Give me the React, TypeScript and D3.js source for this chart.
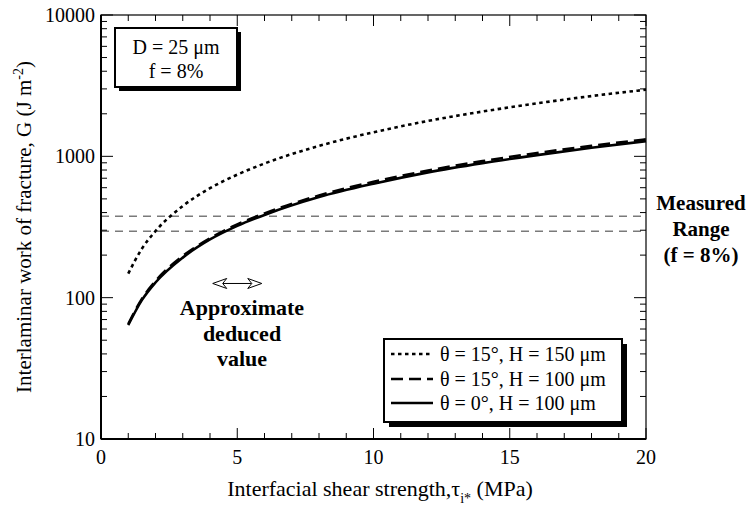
import React from "react";
import * as d3 from "d3";

const tau = [1, 1.5, 2, 3, 4, 5, 6, 8, 10, 12, 14, 16, 18, 20];
const gDotted = [148, 222, 296, 445, 595, 742, 890, 1185, 1480, 1780, 2075, 2370, 2670, 2960];
const gDashed = [65, 98, 131, 197, 263, 330, 395, 528, 660, 792, 925, 1055, 1185, 1320];
const gSolid = [64, 96, 128, 192, 258, 322, 385, 515, 640, 770, 895, 1020, 1150, 1280];
const measuredRange = [295, 376];
const deducedRange = [4.1, 5.9];
const deducedLevel = 126;
const xTicks = [0, 5, 10, 15, 20];
const yTicks = [10, 100, 1000, 10000];
const seriesLabels = ["θ = 15°, H = 150 μm", "θ = 15°, H = 100 μm", "θ = 0°, H = 100 μm"];

const FONT = "Liberation Serif, Times New Roman, serif";

export default function App() {
  const L = 101, R = 646, T = 15, B = 439;
  const x = d3.scaleLinear().domain([0, 20]).range([L, R]);
  const y = d3.scaleLog().domain([10, 10000]).range([B, T]);
  const line = d3
    .line<number>()
    .x((_, i) => x(tau[i]))
    .y((d) => y(d))
    .curve(d3.curveMonotoneX);

  const xMinor = d3.range(1, 20).filter((v) => v % 5 !== 0);
  const yMinor: number[] = [];
  [10, 100, 1000].forEach((d) => {
    for (let k = 2; k <= 9; k++) yMinor.push(k * d);
  });

  const series = [
    { data: gDotted, dash: "3.5 3.5" },
    { data: gDashed, dash: "12 6" },
    { data: gSolid, dash: "none" },
  ];

  const legX = 384, legY = 339, legW = 238, legH = 83;
  const rowY = [354, 379, 403];

  const ax0 = x(deducedRange[0]);
  const ax1 = x(deducedRange[1]);
  const ay = y(deducedLevel);
  const head = 14, hw = 5;

  return (
    <svg
      width={756}
      height={506}
      style={{ position: "absolute", left: 0, top: 0, background: "#fff" }}
      fontFamily={FONT}
    >
      {measuredRange.map((v) => (
        <line key={v} x1={L} x2={R} y1={y(v)} y2={y(v)} stroke="#7a7a7a" strokeWidth={1.5} strokeDasharray="8 6" />
      ))}

      {series.map((s, i) => (
        <path key={i} d={line(s.data) || ""} fill="none" stroke="#000" strokeWidth={2.6} strokeDasharray={s.dash} />
      ))}

      <rect x={L} y={T} width={R - L} height={B - T} fill="none" stroke="#000" strokeWidth={1.2} />
      <line x1={L} x2={L} y1={T} y2={B} stroke="#000" strokeWidth={2} />
      <line x1={L} x2={R} y1={B} y2={B} stroke="#000" strokeWidth={2} />

      {xTicks.map((v) => (
        <g key={"xt" + v}>
          <line x1={x(v)} x2={x(v)} y1={B} y2={B - 11} stroke="#000" strokeWidth={1} />
          <line x1={x(v)} x2={x(v)} y1={T} y2={T + 11} stroke="#000" strokeWidth={1} />
          <text x={x(v)} y={464} fontSize={20} textAnchor="middle">{v}</text>
        </g>
      ))}
      {xMinor.map((v) => (
        <g key={"xm" + v}>
          <line x1={x(v)} x2={x(v)} y1={B} y2={B - 6} stroke="#000" strokeWidth={1} />
          <line x1={x(v)} x2={x(v)} y1={T} y2={T + 6} stroke="#000" strokeWidth={1} />
        </g>
      ))}

      {yTicks.map((v) => (
        <g key={"yt" + v}>
          <line x1={L} x2={L + 12} y1={y(v)} y2={y(v)} stroke="#000" strokeWidth={1} />
          <line x1={R} x2={R - 12} y1={y(v)} y2={y(v)} stroke="#000" strokeWidth={1} />
          <text x={95} y={y(v) + 7} fontSize={20} textAnchor="end">{v}</text>
        </g>
      ))}
      {yMinor.map((v) => (
        <g key={"ym" + v}>
          <line x1={L} x2={L + 6} y1={y(v)} y2={y(v)} stroke="#000" strokeWidth={1} />
          <line x1={R} x2={R - 6} y1={y(v)} y2={y(v)} stroke="#000" strokeWidth={1} />
        </g>
      ))}

      <text x={380} y={496} fontSize={22} textAnchor="middle">
        Interfacial shear strength,τ
        <tspan fontSize={14} dy={7}>i*</tspan>
        <tspan dy={-7}> (MPa)</tspan>
      </text>
      <text transform={`translate(31,${(T + B) / 2}) rotate(-90)`} fontSize={21} textAnchor="middle">
        Interlaminar work of fracture, G (J m
        <tspan fontSize={14} dy={-8}>-2</tspan>
        <tspan dy={8}>)</tspan>
      </text>

      <rect x={119} y={32} width={122} height={59} fill="#000" />
      <rect x={115} y={28} width={122} height={59} fill="#fff" stroke="#000" strokeWidth={2} />
      <text x={176} y={54} fontSize={20} textAnchor="middle">D = 25 μm</text>
      <text x={176} y={78} fontSize={20} textAnchor="middle">f = 8%</text>

      <g fontSize={21} fontWeight="bold" textAnchor="middle">
        <text x={701} y={210}>Measured</text>
        <text x={701} y={236}>Range</text>
        <text x={701} y={262}>(f = 8%)</text>
      </g>

      <g fontSize={22} fontWeight="bold" textAnchor="middle">
        <text x={242} y={315}>Approximate</text>
        <text x={242} y={341}>deduced</text>
        <text x={242} y={366}>value</text>
      </g>
      <line x1={ax0 + head - 4} x2={ax1 - head + 4} y1={ay} y2={ay} stroke="#000" strokeWidth={1} />
      <path
        d={`M${ax0},${ay} L${ax0 + head},${ay - hw} L${ax0 + head - 4},${ay} L${ax0 + head},${ay + hw} Z`}
        fill="#fff"
        stroke="#000"
        strokeWidth={1}
      />
      <path
        d={`M${ax1},${ay} L${ax1 - head},${ay - hw} L${ax1 - head + 4},${ay} L${ax1 - head},${ay + hw} Z`}
        fill="#fff"
        stroke="#000"
        strokeWidth={1}
      />

      <rect x={legX + 5} y={legY + 5} width={legW} height={legH} fill="#000" />
      <rect x={legX} y={legY} width={legW} height={legH} fill="#fff" stroke="#000" strokeWidth={2} />
      {series.map((s, i) => (
        <g key={"lg" + i}>
          <line x1={391} x2={433} y1={rowY[i]} y2={rowY[i]} stroke="#000" strokeWidth={2.6} strokeDasharray={s.dash} />
          <text x={440} y={rowY[i] + 7} fontSize={20}>{seriesLabels[i]}</text>
        </g>
      ))}
    </svg>
  );
}
